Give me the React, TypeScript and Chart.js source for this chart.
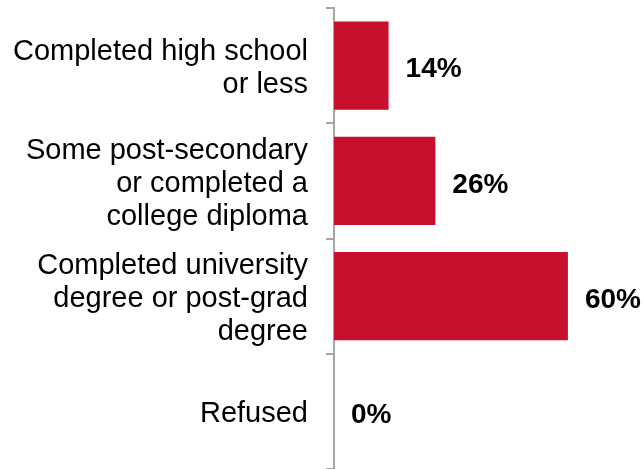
import React, { useEffect, useRef } from "react";
import { Chart, registerables } from "chart.js";

Chart.register(...registerables);

const categories: string[][] = [
  ["Completed high school", "or less"],
  ["Some post-secondary", "or completed a", "college diploma"],
  ["Completed university", "degree or post-grad", "degree"],
  ["Refused"],
];
const values: number[] = [14, 26, 60, 0];
const valueLabels: string[] = ["14%", "26%", "60%", "0%"];

const BAR_COLOR = "rgb(200,16,46)";
const AXIS_COLOR = "#a6a6a6";
const FONT = "'Liberation Sans', Arial, sans-serif";

const valueLabelPlugin = {
  id: "valueLabels",
  afterDatasetsDraw(chart: any) {
    const ctx = chart.ctx;
    const meta = chart.getDatasetMeta(0);
    ctx.save();
    ctx.font = `bold 28px ${FONT}`;
    ctx.fillStyle = "#000";
    ctx.textAlign = "left";
    ctx.textBaseline = "middle";
    meta.data.forEach((bar: any, i: number) => {
      ctx.fillText(valueLabels[i], bar.x + 17, bar.y + 4);
    });
    ctx.restore();
  },
};

export default function App() {
  const ref = useRef<HTMLCanvasElement | null>(null);
  useEffect(() => {
    if (!ref.current) return;
    const chart = new Chart(ref.current, {
      type: "bar",
      data: {
        labels: categories,
        datasets: [
          {
            data: values,
            backgroundColor: BAR_COLOR,
            borderWidth: 0,
            barPercentage: 0.767,
            categoryPercentage: 1,
          },
        ],
      },
      options: {
        indexAxis: "y",
        animation: false,
        responsive: false,
        maintainAspectRatio: false,
        layout: { padding: { top: 8, right: 0, bottom: 0, left: 0 } },
        plugins: { legend: { display: false }, tooltip: { enabled: false } },
        scales: {
          x: { display: false, min: 0, max: 79 },
          y: {
            afterFit(scale: any) {
              scale.width = 334;
              scale.paddingTop = 0;
              scale.paddingBottom = 0;
            },
            border: { display: true, color: AXIS_COLOR, width: 2 },
            grid: {
              offset: true,
              drawOnChartArea: false,
              drawTicks: true,
              tickLength: 8,
              color: AXIS_COLOR,
              lineWidth: 2,
            },
            ticks: {
              color: "#000",
              padding: 18,
              autoSkip: false,
              labelOffset: 3,
              font: { family: FONT, size: 29, lineHeight: "33px" },
            },
          },
        },
      },
      plugins: [valueLabelPlugin],
    });
    return () => chart.destroy();
  }, []);
  return (
    <div style={{ position: "fixed", left: 0, top: 0, width: 642, height: 469, background: "#fff" }}>
      <canvas ref={ref} width={642} height={469} style={{ width: 642, height: 469 }} />
    </div>
  );
}
